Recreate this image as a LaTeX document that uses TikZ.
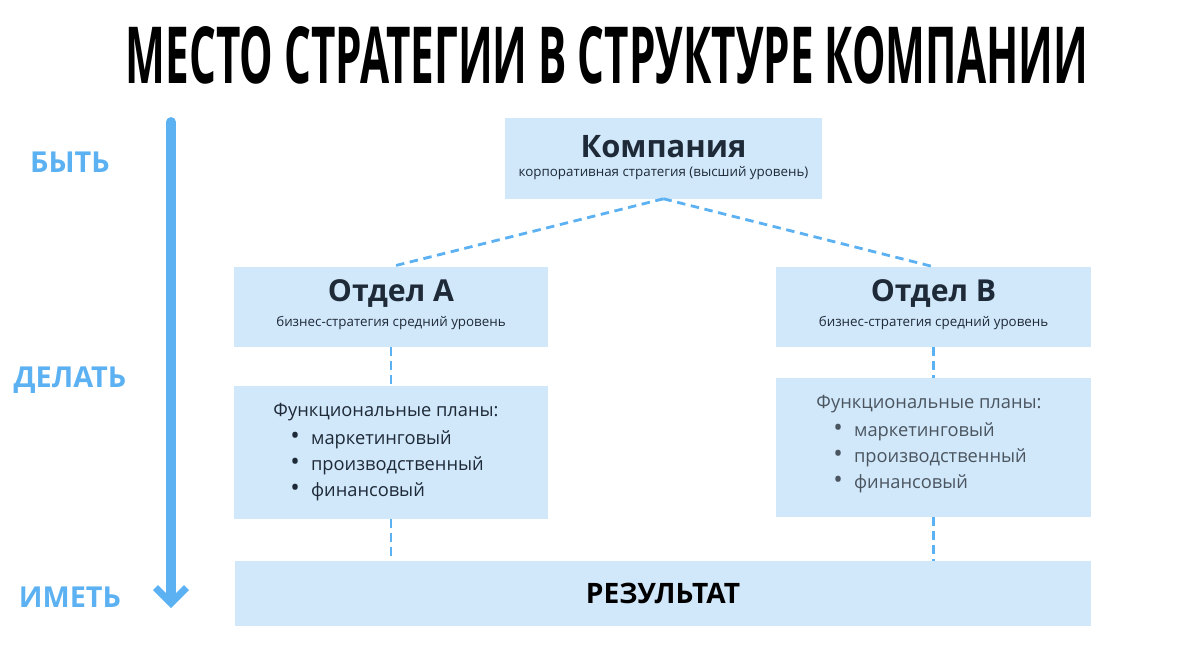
\documentclass[tikz,border=0pt]{standalone}
\usepackage{fontspec}
\setmainfont{Open Sans}
\usetikzlibrary{positioning, arrows.meta}
\definecolor{boxblue}{HTML}{D1E8FA}
\definecolor{lineblue}{HTML}{5BB1F2}
\definecolor{textdark}{HTML}{1E2A38}
\newcommand{\punkt}{\hspace*{12pt}{\fontsize{18}{18}\selectfont\textbullet}\hspace{8pt}}
\tikzset{
  blok/.style={rectangle, fill=boxblue, inner sep=0pt, align=center},
  svyaz/.style={lineblue, line width=2pt, dash pattern=on 6pt off 4pt},
  uroven/.style={text=lineblue, font=\fontsize{20.5}{22}\selectfont\bfseries}
}
\begin{document}
\begin{tikzpicture}[x=0.025cm, y=-0.025cm]
					\useasboundingbox (0,0) rectangle (1200,653);
					% Zagolovok
					\node[font=\fontsize{56}{64}\selectfont\bfseries, xscale=0.536, text=black] (zag) at (607,55) {МЕСТО СТРАТЕГИИ В СТРУКТУРЕ КОМПАНИИ};
					
					% Strelka urovnej
					\coordinate (verh) at (171,122);
					\coordinate (niz) at (171,608);
					\draw[lineblue, line width=7pt, line cap=round, -{Straight Barb[length=11pt, width=22pt, line width=5pt]}] (verh) -- (niz);
					\node[uroven] (byt) at (70,162) {БЫТЬ};
					\node[uroven] (delat) at (70,380) {ДЕЛАТЬ};
					\node[uroven] (imet) at (70,597) {ИМЕТЬ};
					
					% Bloki
					\node[blok, minimum width=7.9cm, minimum height=2cm] (komp) at (663.5,158.5) {};
					\node[font=\fontsize{22}{24}\selectfont\bfseries, text=textdark] at (663.5,147) {Компания};
					\node[font=\fontsize{9.5}{11}\selectfont, text=textdark] at (663.5,173) {корпоративная стратегия (высший уровень)};
					
					\node[blok, minimum width=7.85cm, minimum height=2cm] (otdA) at (391,307) {};
					\node[font=\fontsize{21.5}{24}\selectfont\bfseries, text=textdark] at (391,293) {Отдел А};
					\node[font=\fontsize{9.5}{11}\selectfont, text=textdark] at (391,323) {бизнес-стратегия средний уровень};
					
					\node[blok, minimum width=7.85cm, minimum height=2cm] (otdB) at (933.5,307) {};
					\node[font=\fontsize{21.5}{24}\selectfont\bfseries, text=textdark] at (933.5,293) {Отдел В};
					\node[font=\fontsize{9.5}{11}\selectfont, text=textdark] at (933.5,323) {бизнес-стратегия средний уровень};
					
					\node[blok, minimum width=7.85cm, minimum height=3.325cm] (planA) at (391,452.5) {};
					\node[text=textdark, font=\fontsize{13}{18.5}\selectfont, align=left] at (386,452) {Функциональные планы:\\[2pt]
						\punkt маркетинговый\\
						\punkt производственный\\
						\punkt финансовый};
					
					\node[blok, minimum width=7.85cm, minimum height=3.475cm] (planB) at (933.5,447.5) {};
					\node[text=textdark!80, font=\fontsize{13}{18.5}\selectfont, align=left] at (929,444) {Функциональные планы:\\[2pt]
						\punkt маркетинговый\\
						\punkt производственный\\
						\punkt финансовый};
					
					\node[blok, minimum width=21.4cm, minimum height=1.625cm, font=\fontsize{20}{22}\selectfont\bfseries, text=black] (rez) at (663,593.5) {РЕЗУЛЬТАТ};
					
					% Svyazi
					\draw[svyaz] (komp.south) -- (otdA.north);
					\draw[svyaz] (komp.south) -- (otdB.north);
					\draw[svyaz] (otdA.south) -- (planA.north);
					\draw[svyaz] (otdB.south) -- (planB.north);
					\draw[svyaz] (planA.south) -- (planA.south |- rez.north);
					\draw[svyaz] (planB.south) -- (planB.south |- rez.north);
				\end{tikzpicture}
\end{document}
